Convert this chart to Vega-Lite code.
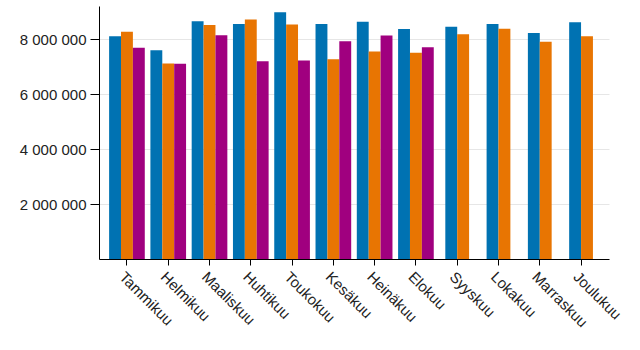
{
  "$schema": "https://vega.github.io/schema/vega-lite/v6.json",
  "width": 510,
  "height": 253,
  "autosize": {"type": "none"},
  "padding": {"left": 99, "top": 6, "right": 31, "bottom": 91},
  "config": {
    "view": {"stroke": null},
    "font": "Liberation Sans",
    "locale": {"number": {"decimal": ",", "thousands": " ", "grouping": [3], "currency": ["", " €"]}},
    "axis": {"labelFontSize": 15, "labelColor": "#222222", "domainColor": "#000000", "tickColor": "#000000", "gridColor": "#e6e6e6", "title": null}
  },
  "data": {"values": [
    {"n": 1, "kuukausi": "Tammikuu", "vuosi": "2017", "arvo": 8100000},
    {"n": 1, "kuukausi": "Tammikuu", "vuosi": "2018", "arvo": 8260000},
    {"n": 1, "kuukausi": "Tammikuu", "vuosi": "2019", "arvo": 7680000},
    {"n": 2, "kuukausi": "Helmikuu", "vuosi": "2017", "arvo": 7590000},
    {"n": 2, "kuukausi": "Helmikuu", "vuosi": "2018", "arvo": 7110000},
    {"n": 2, "kuukausi": "Helmikuu", "vuosi": "2019", "arvo": 7100000},
    {"n": 3, "kuukausi": "Maaliskuu", "vuosi": "2017", "arvo": 8650000},
    {"n": 3, "kuukausi": "Maaliskuu", "vuosi": "2018", "arvo": 8510000},
    {"n": 3, "kuukausi": "Maaliskuu", "vuosi": "2019", "arvo": 8140000},
    {"n": 4, "kuukausi": "Huhtikuu", "vuosi": "2017", "arvo": 8550000},
    {"n": 4, "kuukausi": "Huhtikuu", "vuosi": "2018", "arvo": 8710000},
    {"n": 4, "kuukausi": "Huhtikuu", "vuosi": "2019", "arvo": 7190000},
    {"n": 5, "kuukausi": "Toukokuu", "vuosi": "2017", "arvo": 8970000},
    {"n": 5, "kuukausi": "Toukokuu", "vuosi": "2018", "arvo": 8530000},
    {"n": 5, "kuukausi": "Toukokuu", "vuosi": "2019", "arvo": 7220000},
    {"n": 6, "kuukausi": "Kesäkuu", "vuosi": "2017", "arvo": 8550000},
    {"n": 6, "kuukausi": "Kesäkuu", "vuosi": "2018", "arvo": 7260000},
    {"n": 6, "kuukausi": "Kesäkuu", "vuosi": "2019", "arvo": 7920000},
    {"n": 7, "kuukausi": "Heinäkuu", "vuosi": "2017", "arvo": 8630000},
    {"n": 7, "kuukausi": "Heinäkuu", "vuosi": "2018", "arvo": 7550000},
    {"n": 7, "kuukausi": "Heinäkuu", "vuosi": "2019", "arvo": 8130000},
    {"n": 8, "kuukausi": "Elokuu", "vuosi": "2017", "arvo": 8360000},
    {"n": 8, "kuukausi": "Elokuu", "vuosi": "2018", "arvo": 7500000},
    {"n": 8, "kuukausi": "Elokuu", "vuosi": "2019", "arvo": 7700000},
    {"n": 9, "kuukausi": "Syyskuu", "vuosi": "2017", "arvo": 8450000},
    {"n": 9, "kuukausi": "Syyskuu", "vuosi": "2018", "arvo": 8170000},
    {"n": 10, "kuukausi": "Lokakuu", "vuosi": "2017", "arvo": 8550000},
    {"n": 10, "kuukausi": "Lokakuu", "vuosi": "2018", "arvo": 8370000},
    {"n": 11, "kuukausi": "Marraskuu", "vuosi": "2017", "arvo": 8220000},
    {"n": 11, "kuukausi": "Marraskuu", "vuosi": "2018", "arvo": 7900000},
    {"n": 12, "kuukausi": "Joulukuu", "vuosi": "2017", "arvo": 8610000},
    {"n": 12, "kuukausi": "Joulukuu", "vuosi": "2018", "arvo": 8100000}
  ]},
  "encoding": {
    "x": {
      "field": "kuukausi", "type": "nominal",
      "scale": {"domain": ["Tammikuu", "Helmikuu", "Maaliskuu", "Huhtikuu", "Toukokuu", "Kesäkuu", "Heinäkuu", "Elokuu", "Syyskuu", "Lokakuu", "Marraskuu", "Joulukuu"], "paddingInner": 0.136, "paddingOuter": 0.245},
      "axis": {"labelAngle": 45, "labelAlign": "left", "labelBaseline": "top", "tickSize": 6, "labelPadding": 4, "grid": false}
    },
    "y": {
      "field": "arvo", "type": "quantitative",
      "scale": {"domain": [0, 9200000], "nice": false},
      "axis": {"values": [2000000, 4000000, 6000000, 8000000], "format": ",d", "tickSize": 9, "labelPadding": 4, "grid": true}
    },
    "color": {
      "field": "vuosi", "type": "nominal",
      "scale": {"domain": ["2017", "2018", "2019"], "range": ["#0072b2", "#e87502", "#a0007f"]},
      "legend": null
    }
  },
  "layer": [
    {
      "transform": [{"filter": "datum.n <= 8"}],
      "mark": {"type": "bar"},
      "encoding": {
        "xOffset": {"field": "vuosi", "type": "nominal", "scale": {"domain": ["2017", "2018", "2019"], "paddingInner": 0, "paddingOuter": 0}}
      }
    },
    {
      "transform": [{"filter": "datum.n > 8"}],
      "mark": {"type": "bar"},
      "encoding": {
        "xOffset": {"field": "vuosi", "type": "nominal", "scale": {"domain": ["2017", "2018"], "paddingInner": 0, "paddingOuter": 0.5}}
      }
    }
  ],
  "resolve": {"scale": {"xOffset": "independent"}}
}
